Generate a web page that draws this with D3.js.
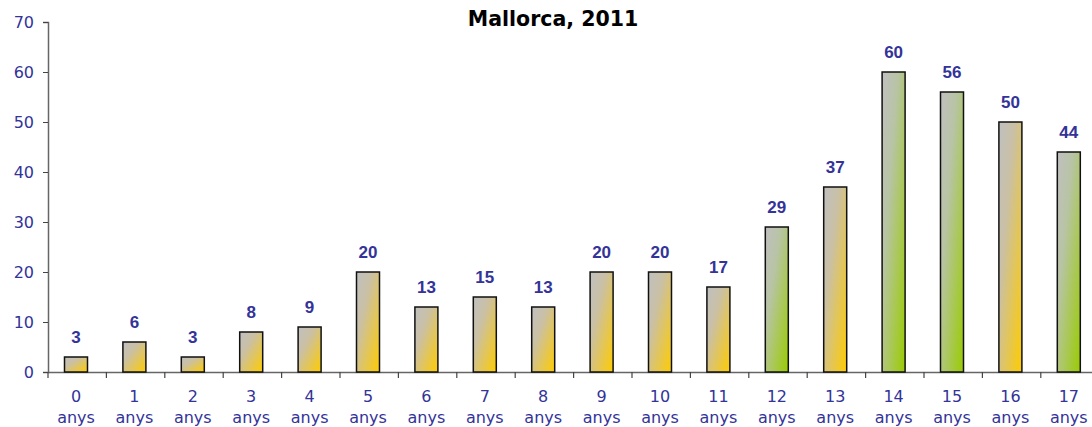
<!DOCTYPE html>
<html><head><meta charset="utf-8">
<script src="https://cdn.jsdelivr.net/npm/d3@7"></script>
<style>body{margin:0;background:#fff;overflow:hidden}</style>
</head><body>
<svg id="c" width="1092" height="427"></svg>
<script>
const categories = ["0","1","2","3","4","5","6","7","8","9","10","11","12","13","14","15","16","17"];
const values = [3,6,3,8,9,20,13,15,13,20,20,17,29,37,60,56,50,44];
const greenBars = [12,14,15,17];
const yTicks = [0,10,20,30,40,50,60,70];
const titleText = "Mallorca, 2011";

const svg = d3.select("#c");
const x0 = 48, step = 58.4;
const x = d3.scaleBand().domain(categories).range([x0, x0 + step*categories.length]).padding(0);
const y = d3.scaleLinear().domain([0,70]).range([372, 22]);
const blue = "#333399";
const cx = d => x(d) + 28;

const defs = svg.append("defs");
const gy = defs.append("linearGradient").attr("id","gy").attr("x1",0).attr("y1",0).attr("x2",1).attr("y2",1);
gy.append("stop").attr("offset","0%").attr("stop-color","#c0c0c0");
gy.append("stop").attr("offset","35%").attr("stop-color","#cac0a4");
gy.append("stop").attr("offset","100%").attr("stop-color","#ffcc00");
const gg = defs.append("linearGradient").attr("id","gg").attr("x1",0).attr("y1",0).attr("x2",1).attr("y2",1);
gg.append("stop").attr("offset","0%").attr("stop-color","#c0c0c0");
gg.append("stop").attr("offset","35%").attr("stop-color","#b8c4a4");
gg.append("stop").attr("offset","100%").attr("stop-color","#99cc00");

svg.append("text").attr("x",553).attr("y",26).attr("text-anchor","middle")
  .attr("font-family","DejaVu Sans").attr("font-weight","bold").attr("font-size",20.5).attr("fill","#000").text(titleText);

// y axis
const ya = svg.append("g").attr("transform",`translate(${x0},0)`)
  .call(d3.axisLeft(y).tickValues(yTicks).tickSize(5).tickPadding(9));
ya.select(".domain").attr("stroke","#666").attr("stroke-width",1.5);
ya.selectAll(".tick line").attr("stroke","#444");
ya.selectAll("text").attr("font-family","DejaVu Sans").attr("font-size",16).attr("fill",blue);

// x axis
const xa = svg.append("g").attr("transform",`translate(0,${y(0)})`)
  .call(d3.axisBottom(x).tickSize(0).tickFormat(""));
xa.select(".domain").attr("stroke","#666").attr("stroke-width",1.5);
const bw = 23;
svg.append("g").selectAll("line").data(categories).join("line")
  .attr("x1",d=>x(d)).attr("x2",d=>x(d))
  .attr("y1",y(0)).attr("y2",y(0)+6).attr("stroke","#444").attr("stroke-width",1.2);

const lab = svg.append("g").selectAll("text").data(categories).join("text")
  .attr("text-anchor","middle").attr("font-family","DejaVu Sans").attr("font-size",16).attr("fill",blue)
  .attr("transform",d=>`translate(${cx(d)},402)`);
lab.append("tspan").attr("x",0).attr("y",0).text(d=>d);
lab.append("tspan").attr("x",0).attr("y",20.5).text("anys");

svg.append("g").selectAll("rect").data(values).join("rect")
  .attr("x",(d,i)=>cx(categories[i])-bw/2)
  .attr("width",bw)
  .attr("y",d=>y(d)).attr("height",d=>y(0)-y(d))
  .attr("fill",(d,i)=>greenBars.includes(i)?"url(#gg)":"url(#gy)")
  .attr("stroke","#111").attr("stroke-width",1.5);

svg.append("g").selectAll("text").data(values).join("text")
  .attr("x",(d,i)=>cx(categories[i]))
  .attr("y",d=>y(d)-14)
  .attr("text-anchor","middle").attr("font-family","Liberation Sans").attr("font-weight","bold")
  .attr("font-size",17).attr("fill",blue).text(d=>d);
</script>
</body></html>
